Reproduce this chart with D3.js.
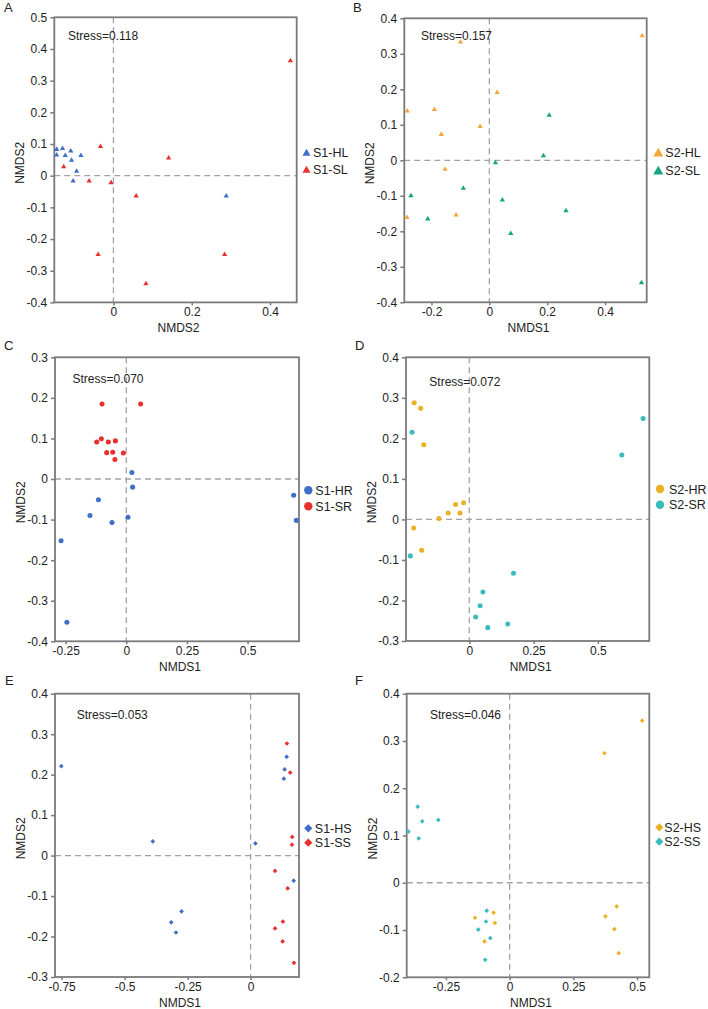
<!DOCTYPE html>
<html><head><meta charset="utf-8">
<script src="https://cdn.jsdelivr.net/npm/d3@7"></script>
<style>body{margin:0;background:#fff}svg{display:block}text{font-family:"Liberation Sans",Arial,sans-serif;fill:#222}</style>
</head><body>
<svg id="c" width="708" height="1009"></svg>
<script>
// ---- Data (NMDS1, NMDS2) ----
const aHL = [[-0.145,0.083],[-0.145,0.065],[-0.130,0.086],[-0.123,0.064],[-0.109,0.078],[-0.107,0.049],[-0.083,0.064],[-0.094,0.014],[-0.103,-0.017],[0.288,-0.064]];
const aSL = [[0.452,0.363],[-0.033,0.092],[0.141,0.056],[-0.127,0.028],[-0.062,-0.017],[-0.006,-0.022],[0.058,-0.064],[-0.039,-0.249],[0.284,-0.249],[0.083,-0.341]];
const bHL = [[-0.100,0.333],[0.528,0.351],[0.027,0.191],[-0.284,0.139],[-0.190,0.143],[-0.166,0.073],[-0.032,0.095],[-0.153,-0.025],[-0.285,-0.161],[-0.115,-0.154]];
const bSL = [[0.207,0.127],[0.187,0.013],[0.021,-0.007],[-0.271,-0.100],[-0.090,-0.079],[-0.213,-0.165],[0.045,-0.112],[0.265,-0.142],[0.074,-0.206],[0.526,-0.345]];
const cHR = [[0.023,0.016],[0.026,-0.020],[-0.115,-0.051],[-0.150,-0.090],[-0.059,-0.107],[0.007,-0.094],[-0.269,-0.152],[-0.245,-0.353],[0.690,-0.040],[0.701,-0.102]];
const cSR = [[-0.100,0.185],[0.059,0.185],[-0.122,0.091],[-0.103,0.099],[-0.074,0.091],[-0.045,0.094],[-0.081,0.065],[-0.056,0.066],[-0.047,0.048],[-0.012,0.064]];
const dHR = [[-0.214,0.288],[-0.189,0.274],[-0.177,0.184],[-0.118,0.002],[-0.082,0.016],[-0.053,0.037],[-0.036,0.016],[-0.022,0.041],[-0.216,-0.021],[-0.185,-0.076]];
const dSR = [[-0.222,0.215],[0.676,0.249],[0.593,0.159],[-0.229,-0.090],[0.172,-0.133],[0.053,-0.179],[0.042,-0.213],[0.025,-0.241],[0.072,-0.267],[0.150,-0.258]];
const eHS = [[-0.751,0.221],[-0.388,0.035],[0.019,0.030],[0.143,0.244],[0.135,0.213],[0.132,0.190],[0.171,-0.062],[-0.274,-0.138],[-0.315,-0.165],[-0.296,-0.190]];
const eSS = [[0.144,0.277],[0.157,0.205],[0.165,0.046],[0.164,0.027],[0.097,-0.038],[0.147,-0.081],[0.128,-0.163],[0.097,-0.180],[0.127,-0.212],[0.172,-0.265]];
const fHS = [[0.520,0.343],[0.372,0.274],[0.420,-0.050],[0.376,-0.071],[0.411,-0.098],[0.428,-0.149],[-0.136,-0.074],[-0.063,-0.063],[-0.058,-0.085],[-0.099,-0.124]];
const fSS = [[-0.361,0.161],[-0.343,0.130],[-0.280,0.133],[-0.397,0.108],[-0.357,0.094],[-0.090,-0.059],[-0.093,-0.082],[-0.123,-0.099],[-0.076,-0.117],[-0.096,-0.163]];

const panelLetters = ["A","B","C","D","E","F"];
const stressLabels = ["Stress=0.118","Stress=0.157","Stress=0.070","Stress=0.072","Stress=0.053","Stress=0.046"];
const legendNames = [["S1-HL","S1-SL"],["S2-HL","S2-SL"],["S1-HR","S1-SR"],["S2-HR","S2-SR"],["S1-HS","S1-SS"],["S2-HS","S2-SS"]];
const xTitles = ["NMDS2","NMDS1","NMDS1","NMDS1","NMDS1","NMDS1"];
const xTicksA = [0,0.2,0.4], xTicksB = [-0.2,0,0.2,0.4], xTicksC = [-0.25,0,0.25,0.5], xTicksD = [0,0.25,0.5], xTicksE = [-0.75,-0.5,-0.25,0], xTicksF = [-0.25,0,0.25,0.5];
const yTicksA = [-0.4,-0.3,-0.2,-0.1,0,0.1,0.2,0.3,0.4,0.5], yTicksB = [-0.4,-0.3,-0.2,-0.1,0,0.1,0.2,0.3,0.4],
      yTicksC = [-0.4,-0.3,-0.2,-0.1,0,0.1,0.2,0.3], yTicksD = [-0.3,-0.2,-0.1,0,0.1,0.2,0.3,0.4],
      yTicksE = [-0.3,-0.2,-0.1,0,0.1,0.2,0.3,0.4], yTicksF = [-0.2,-0.1,0,0.1,0.2,0.3,0.4];

// ---- Layout ----
const panels = [
  {L:54.3,R:296.7,T:17.3,B:302.4,xd:[-0.151,0.468],yd:[-0.4,0.5],xt:xTicksA,yt:yTicksA,s:[aHL,aSL],col:["#3f6fc6","#e8312f"],sym:"tri",stress:[68,40],leg:[306.5,152.5,17],lsym:28,lx:6.5},
  {L:404.3,R:646.7,T:18.3,B:302.3,xd:[-0.294,0.544],yd:[-0.4,0.4],xt:xTicksB,yt:yTicksB,s:[bHL,bSL],col:["#f4a73b","#17a57d"],sym:"tri",stress:[421,39.5],leg:[658.3,152.5,18],lsym:44,lx:7},
  {L:55,R:299,T:357.3,B:641.3,xd:[-0.294,0.712],yd:[-0.4,0.3],xt:xTicksC,yt:yTicksC,s:[cHR,cSR],col:["#3f6fc6","#e8312f"],sym:"circ",stress:[72.5,382.5],leg:[308.3,490.3,16],lsym:55,lx:7},
  {L:406,R:649.3,T:357.3,B:641,xd:[-0.246,0.70],yd:[-0.3,0.4],xt:xTicksD,yt:yTicksD,s:[dHR,dSR],col:["#e8b224","#3abcbc"],sym:"circ",stress:[429.3,386],leg:[660,489,15.7],lsym:55,lx:9},
  {L:55,R:299,T:693.7,B:977,xd:[-0.776,0.192],yd:[-0.3,0.4],xt:xTicksE,yt:yTicksE,s:[eHS,eSS],col:["#3f6fc6","#e8312f"],sym:"dia",stress:[76.7,719],leg:[308.3,828.3,14.4],lsym:34,lx:6.5},
  {L:406.7,R:649.3,T:693.7,B:977.3,xd:[-0.404,0.548],yd:[-0.2,0.4],xt:xTicksF,yt:yTicksF,s:[fHS,fSS],col:["#e8b224","#3abcbc"],sym:"dia",stress:[430,719],leg:[659.3,827.3,14.4],lsym:34,lx:5}
];
const letterPos = [[4,12],[353,12],[4,350],[355,350],[5,685],[355,685]];

const svg = d3.select("#c");
const axisCol = "#7a7a7a";
const fmt = d => d === 0 ? "0" : String(d);

function symPath(kind, size){
  if(kind==="tri") return d3.symbol(d3.symbolTriangle, size)();
  if(kind==="circ") return d3.symbol(d3.symbolCircle, size)();
  return d3.symbol(d3.symbolSquare, size)();
}

panels.forEach((p,i)=>{
  const g = svg.append("g");
  const x = d3.scaleLinear().domain(p.xd).range([p.L,p.R]);
  const y = d3.scaleLinear().domain(p.yd).range([p.B,p.T]);

  // zero dashed lines
  g.append("line").attr("x1",p.L).attr("x2",p.R).attr("y1",y(0)).attr("y2",y(0))
    .attr("stroke","#a3a3a3").attr("stroke-width",1.3).attr("stroke-dasharray","6,4");
  g.append("line").attr("x1",x(0)).attr("x2",x(0)).attr("y1",p.T).attr("y2",p.B)
    .attr("stroke","#a3a3a3").attr("stroke-width",1.3).attr("stroke-dasharray","6,4");

  // stress
  g.append("text").attr("x",p.stress[0]).attr("y",p.stress[1]).attr("font-size","12px").text(stressLabels[i]);

  // frame
  g.append("rect").attr("x",p.L).attr("y",p.T).attr("width",p.R-p.L).attr("height",p.B-p.T)
    .attr("fill","none").attr("stroke",axisCol).attr("stroke-width",1.8);

  // axes
  const ax = g.append("g").attr("transform",`translate(0,${p.B})`)
    .call(d3.axisBottom(x).tickValues(p.xt).tickFormat(fmt).tickSize(3).tickPadding(2));
  const ay = g.append("g").attr("transform",`translate(${p.L},0)`)
    .call(d3.axisLeft(y).tickValues(p.yt).tickFormat(fmt).tickSize(4).tickPadding(3));
  [ax,ay].forEach(a=>{
    a.select(".domain").remove();
    a.selectAll(".tick line").attr("stroke",axisCol).attr("stroke-width",1.5);
    a.selectAll(".tick text").attr("font-size","12px").attr("fill","#222")
      .attr("font-family",'"Liberation Sans",Arial,sans-serif');
  });

  // titles
  g.append("text").attr("x",(p.L+p.R)/2+3).attr("y",p.B+30).attr("text-anchor","middle")
    .attr("font-size","12px").text(xTitles[i]);
  g.append("text").attr("transform",`translate(${p.L-30},${(p.T+p.B)/2+3}) rotate(-90)`)
    .attr("text-anchor","middle").attr("font-size","12px").text("NMDS2");

  // points
  const ps = p.sym==="tri"?12:(p.sym==="circ"?20:11);
  p.s.forEach((ser,k)=>{
    g.append("g").selectAll("path").data(ser).enter().append("path")
      .attr("d",symPath(p.sym,ps))
      .attr("transform",d=>`translate(${x(d[0])},${y(d[1])})${p.sym==="dia"?" rotate(45)":""}`)
      .attr("fill",p.col[k]);
  });

  // legend
  legendNames[i].forEach((nm,k)=>{
    const ly = p.leg[1]+k*p.leg[2];
    g.append("path").attr("d",symPath(p.sym,p.lsym))
      .attr("transform",`translate(${p.leg[0]},${ly + (p.sym==="tri"?1:0)})${p.sym==="dia"?" rotate(45)":""}`)
      .attr("fill",p.col[k]);
    g.append("text").attr("x",p.leg[0]+p.lx).attr("y",ly+4.5).attr("font-size","12.5px").text(nm);
  });

  // panel letter
  svg.append("text").attr("x",letterPos[i][0]).attr("y",letterPos[i][1]).attr("font-size","13px").text(panelLetters[i]);
});
</script>
</body></html>
